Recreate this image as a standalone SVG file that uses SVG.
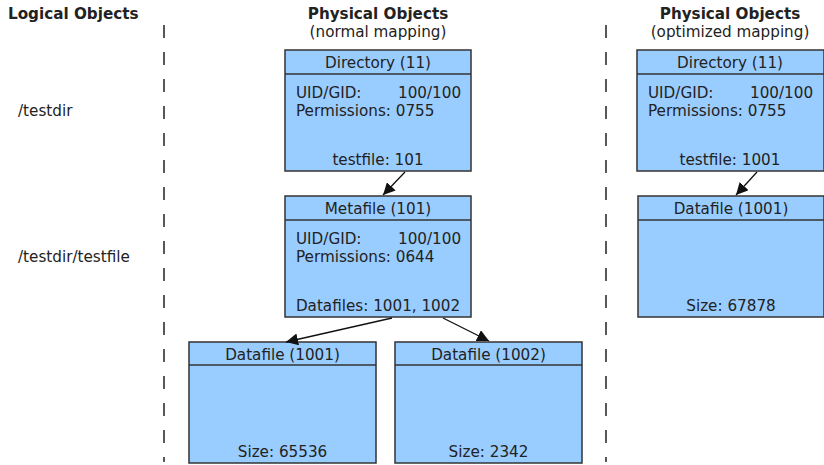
<svg xmlns="http://www.w3.org/2000/svg" width="824" height="465" viewBox="0 0 824 465">
<style>
text{font-family:"DejaVu Sans",sans-serif;font-size:15.2px;fill:#222}
.h{font-weight:bold}
.m{text-anchor:middle}
.box{fill:#99ccff;stroke:#333;stroke-width:1.5}
.sep{stroke:#333;stroke-width:1.5}
.dash{stroke:#222;stroke-width:1.5;stroke-dasharray:13 14}
.e{stroke:#111;stroke-width:1.3;fill:none;marker-end:url(#ah)}
</style>
<defs>
<marker id="ah" viewBox="0 0 10 10" refX="10" refY="5" markerWidth="12" markerHeight="12" markerUnits="userSpaceOnUse" orient="auto"><path d="M0,0 L10,5 L0,10 z" fill="#111"/></marker>
</defs>
<rect width="824" height="465" fill="#fff"/>
<g id="headings">
<text class="h" x="8" y="19">Logical Objects</text>
<text class="h m" x="378" y="19">Physical Objects</text>
<text class="m" x="378" y="37">(normal mapping)</text>
<text class="h m" x="730" y="19">Physical Objects</text>
<text class="m" x="730" y="37">(optimized mapping)</text>
<text x="18" y="116">/testdir</text>
<text x="18" y="262">/testdir/testfile</text>
</g>
<g id="separators">
<line class="dash" x1="164" y1="25" x2="164" y2="462"/>
<line class="dash" x1="606" y1="25" x2="606" y2="462"/>
</g>
<g id="dir-normal">
<rect class="box" x="285" y="50" width="186" height="121"/>
<line class="sep" x1="285" y1="74" x2="471" y2="74"/>
<text class="m" x="378" y="68">Directory (11)</text>
<text x="296" y="98">UID/GID:</text><text x="398" y="98">100/100</text>
<text x="296" y="116">Permissions: 0755</text>
<text class="m" x="378" y="165">testfile: 101</text>
</g>
<g id="meta">
<rect class="box" x="285" y="196" width="186" height="121"/>
<line class="sep" x1="285" y1="220" x2="471" y2="220"/>
<text class="m" x="378" y="214">Metafile (101)</text>
<text x="296" y="244">UID/GID:</text><text x="398" y="244">100/100</text>
<text x="296" y="262">Permissions: 0644</text>
<text class="m" x="378" y="311">Datafiles: 1001, 1002</text>
</g>
<g id="data1001">
<rect class="box" x="189" y="342" width="187" height="121"/>
<line class="sep" x1="189" y1="365" x2="376" y2="365"/>
<text class="m" x="282.5" y="360">Datafile (1001)</text>
<text class="m" x="282.5" y="457">Size: 65536</text>
</g>
<g id="data1002">
<rect class="box" x="395" y="342" width="187" height="121"/>
<line class="sep" x1="395" y1="365" x2="582" y2="365"/>
<text class="m" x="488.5" y="360">Datafile (1002)</text>
<text class="m" x="488.5" y="457">Size: 2342</text>
</g>
<g id="dir-opt">
<rect class="box" x="637" y="50" width="187" height="121"/>
<line class="sep" x1="637" y1="74" x2="824" y2="74"/>
<text class="m" x="730" y="68">Directory (11)</text>
<text x="648" y="98">UID/GID:</text><text x="750" y="98">100/100</text>
<text x="648" y="116">Permissions: 0755</text>
<text class="m" x="730" y="165">testfile: 1001</text>
</g>
<g id="data-opt">
<rect class="box" x="638" y="196" width="186" height="121"/>
<line class="sep" x1="638" y1="220" x2="824" y2="220"/>
<text class="m" x="731" y="214">Datafile (1001)</text>
<text class="m" x="731" y="311">Size: 67878</text>
</g>
<g id="connectors">
<line class="e" x1="405" y1="172" x2="383" y2="195"/>
<line class="e" x1="392" y1="318" x2="286" y2="342"/>
<line class="e" x1="443" y1="318" x2="489" y2="341"/>
<line class="e" x1="757" y1="172" x2="736" y2="195"/>
</g>
</svg>
